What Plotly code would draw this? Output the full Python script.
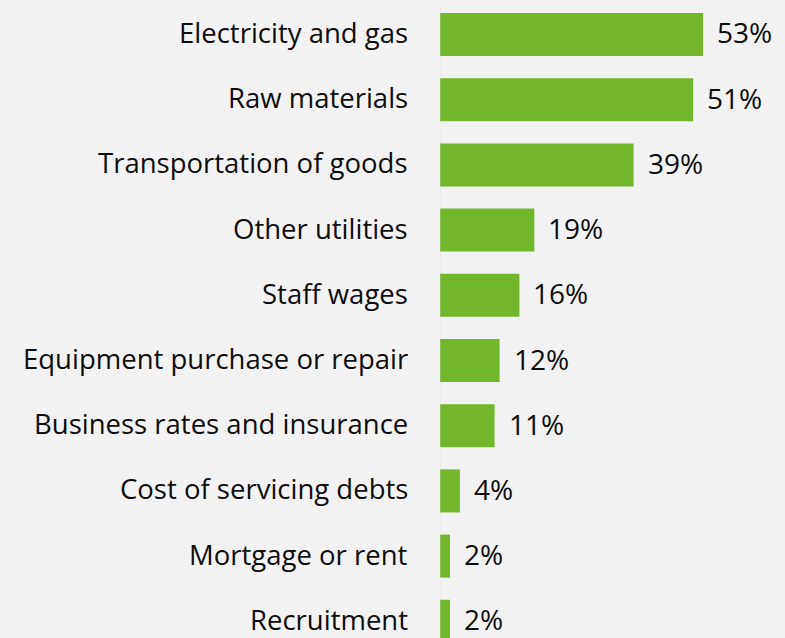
import plotly.graph_objects as go

categories = [
    "Electricity and gas",
    "Raw materials",
    "Transportation of goods",
    "Other utilities",
    "Staff wages",
    "Equipment purchase or repair",
    "Business rates and insurance",
    "Cost of servicing debts",
    "Mortgage or rent",
    "Recruitment",
]
shares = [53, 51, 39, 19, 16, 12, 11, 4, 2, 2]

FONT = "Open Sans"
BAR = "#72b62c"
BG = "#f2f2f2"
TEXT = "#0d0d0d"

positions = list(range(len(categories)))

fig = go.Figure(
    go.Bar(
        y=positions,
        x=shares,
        orientation="h",
        width=0.66,
        marker=dict(color=BAR, line=dict(width=0)),
        hoverinfo="skip",
    )
)

for pos, name, v in zip(positions, categories, shares):
    # category name, right-aligned left of the baseline
    fig.add_annotation(
        x=0, y=pos, xref="paper", yref="y",
        text=name, showarrow=False,
        xanchor="right", yanchor="middle", xshift=-30, yshift=2,
        font=dict(family=FONT, size=27.5, color=TEXT),
    )
    # value label to the right of the bar
    fig.add_annotation(
        x=v, y=pos, xref="x", yref="y",
        text=f"{v}%", showarrow=False,
        xanchor="left", yanchor="middle", xshift=12, yshift=2,
        font=dict(family=FONT, size=28, color=TEXT),
    )

# vertical baseline at zero
fig.add_shape(
    type="line", xref="x", yref="paper",
    x0=-0.15, x1=-0.15, y0=0, y1=0.995,
    line=dict(color="#d9d9d9", width=2),
)

fig.update_layout(
    width=785, height=638,
    margin=dict(l=440, r=0, t=0, b=0),
    paper_bgcolor=BG, plot_bgcolor=BG,
    showlegend=False,
    xaxis=dict(range=[0, 69.5], visible=False, fixedrange=True),
    yaxis=dict(
        range=[9.256, -0.529],
        showgrid=False, zeroline=False, showline=False,
        showticklabels=False, ticks="",
        fixedrange=True,
    ),
)

fig.write_html("out.html")
